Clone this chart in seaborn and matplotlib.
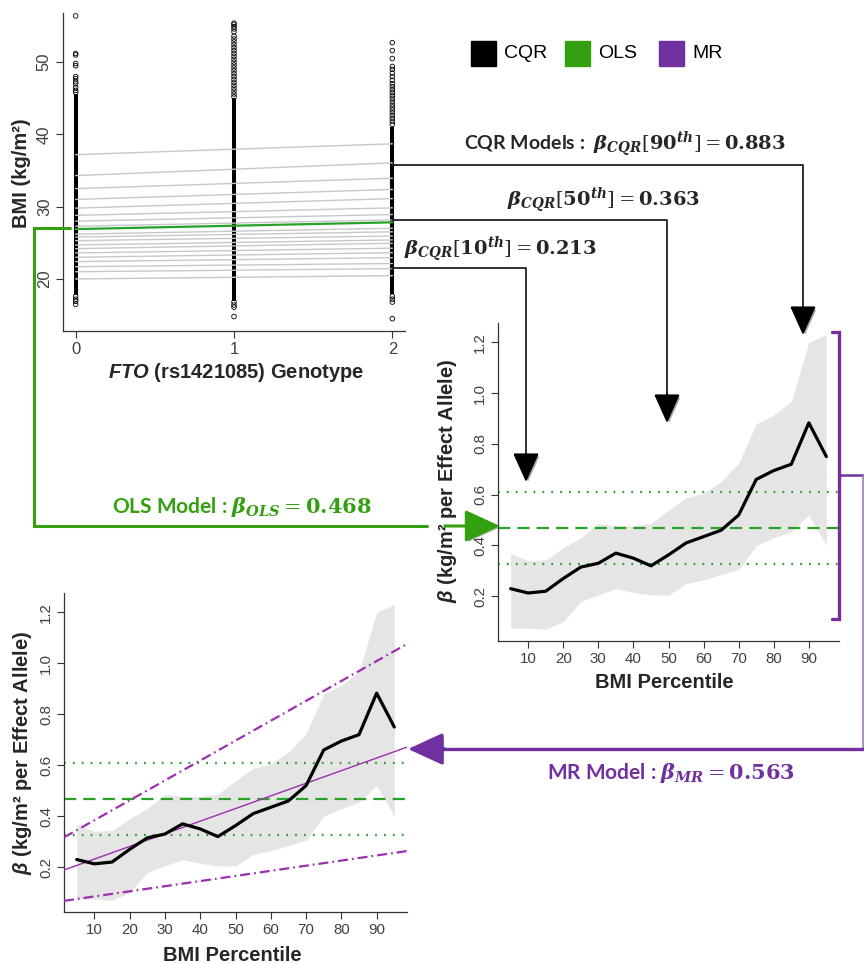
import matplotlib
matplotlib.use('Agg')
import matplotlib.pyplot as plt
import matplotlib.patheffects as pe
from matplotlib.patches import Rectangle
import seaborn as sns
import pandas as pd

#figure size in pixels
W, H = 864, 963

#---- data ----
genotype = [0, 1, 2]
#points that show as separate circles (BMI, kg/m2)
bmi_pts_g0 = [56.4, 51.2, 51.0, 49.8, 49.5, 48.0, 47.7, 47.3, 47.0, 46.5, 46.1, 45.8,
              17.6, 17.2, 16.9, 16.5]
bmi_pts_g1 = [55.4, 55.2, 54.9, 54.6, 54.2, 53.6, 53.2, 52.8, 52.4, 52.0, 51.6, 51.2,
              50.8, 50.4, 50.0, 49.6, 49.2, 48.8, 48.4, 48.0, 47.6, 47.2, 46.8, 46.4,
              46.0, 45.6, 45.2, 16.8, 16.4, 16.1, 14.8]
bmi_pts_g2 = [52.7, 51.6, 50.5, 49.4, 49.0, 48.5, 48.0, 47.5, 47.0, 46.6, 46.2, 45.8,
              45.4, 45.0, 44.6, 44.2, 43.8, 43.4, 43.0, 42.6, 42.2, 41.8, 41.4,
              17.6, 17.2, 16.8, 14.5]
#solid black part of each column
dense_lo = [17.8, 17.0, 17.9]
dense_hi = [45.6, 45.0, 41.0]

#quantile regression lines (5th..95th)
pct = [5, 10, 15, 20, 25, 30, 35, 40, 45, 50, 55, 60, 65, 70, 75, 80, 85, 90, 95]
q_intercept = [20.0, 21.0, 21.7, 22.4, 23.0, 23.6, 24.2, 24.7, 25.3, 25.8, 26.2, 27.3,
               28.0, 28.8, 29.8, 31.0, 32.5, 34.3, 37.2]
cqr_beta = [0.23, 0.213, 0.22, 0.27, 0.315, 0.33, 0.37, 0.35, 0.32, 0.363, 0.41, 0.435,
            0.46, 0.52, 0.66, 0.695, 0.72, 0.883, 0.75]
cqr_lo = [0.075, 0.075, 0.07, 0.10, 0.18, 0.205, 0.23, 0.215, 0.205, 0.205, 0.25, 0.265,
          0.285, 0.305, 0.40, 0.43, 0.455, 0.52, 0.40]
cqr_hi = [0.368, 0.34, 0.344, 0.39, 0.43, 0.486, 0.478, 0.478, 0.486, 0.54, 0.587, 0.606,
          0.652, 0.724, 0.879, 0.914, 0.967, 1.20, 1.23]

#OLS
ols_intercept = 26.9
ols_beta = 0.468
ols_lo, ols_hi = 0.327, 0.609

#MR: estimate, upper, lower lines (beta vs percentile)
mr_intercept = [0.182, 0.306, 0.065]
mr_slope = [0.00496, 0.00781, 0.00201]
mr_beta = 0.563

#colors
GREEN = '#27a127'
GREEN_ANN = '#33a00f'
PURPLE = '#7030a0'
MR_COL = '#9b2fae'
BAND = '#e5e5e5'
TICK_COL = '#404040'

sns.set_theme(style='ticks')
plt.rcParams['font.family'] = ['Liberation Sans', 'DejaVu Sans']
plt.rcParams['mathtext.fontset'] = 'custom'
plt.rcParams['mathtext.rm'] = 'Liberation Sans'
plt.rcParams['mathtext.it'] = 'Liberation Sans:italic'
plt.rcParams['mathtext.bf'] = 'Liberation Sans:bold'
plt.rcParams['mathtext.bfit'] = 'Liberation Sans:italic:bold'

fig = plt.figure(figsize=(W / 100, H / 100), dpi=100)
fig.patch.set_facecolor('white')


def px_axes(left, top, right, bottom):
    return fig.add_axes([left / W, 1 - bottom / H, (right - left) / W, (bottom - top) / H])


def r_style(ax, tick_size):
    sns.despine(ax=ax)
    for s in ['left', 'bottom']:
        ax.spines[s].set_color('#333333')
        ax.spines[s].set_linewidth(0.9)
    ax.set_facecolor('white')
    ax.tick_params(direction='out', length=5, width=0.8, color='#333333',
                   labelsize=tick_size, labelcolor=TICK_COL, pad=3)
    for lab in ax.get_yticklabels():
        lab.set_rotation(90)
        lab.set_va('center')


#---- top-left: scatter with quantile lines ----
ax1 = px_axes(63, 13, 405, 331)
ax1.vlines(genotype, dense_lo, dense_hi, color='black', lw=2.9, zorder=2)
pts = pd.DataFrame({
    'genotype': [0] * len(bmi_pts_g0) + [1] * len(bmi_pts_g1) + [2] * len(bmi_pts_g2),
    'bmi': bmi_pts_g0 + bmi_pts_g1 + bmi_pts_g2})
sns.scatterplot(data=pts, x='genotype', y='bmi', ax=ax1, marker='o', s=11,
                facecolor='none', edgecolor='black', linewidth=0.6, zorder=2)
for a, b in zip(q_intercept, cqr_beta):
    ax1.plot([0, 2], [a, a + 2 * b], color='#c8c8c8', lw=1.0, zorder=3)
ax1.plot([0, 2], [ols_intercept, ols_intercept + 2 * ols_beta], color=GREEN, lw=1.6, zorder=4)
ax1.set_xlim(-0.08, 2.08)
ax1.set_ylim(12.8, 56.8)
ax1.set_xticks(genotype)
ax1.set_yticks([20, 30, 40, 50])
r_style(ax1, 12)
ax1.set_xlabel(r'$\mathbfit{FTO}$ (rs1421085) Genotype', fontsize=14.5, fontweight='bold', va='center')
ax1.xaxis.set_label_coords(0.506, -0.132)
ax1.set_ylabel('BMI (kg/m²)', fontsize=14.5, fontweight='bold', va='center')
ax1.yaxis.set_label_coords(-0.12, 0.497)

cqr = pd.DataFrame({'pct': pct, 'beta': cqr_beta, 'lo': cqr_lo, 'hi': cqr_hi})


def beta_panel(ax):
    ax.fill_between(cqr['pct'], cqr['lo'], cqr['hi'], color=BAND, lw=0, zorder=1)
    ax.axhline(ols_hi, color=GREEN, lw=1.6, ls=(0, (0.8, 3.2)), zorder=2)
    ax.axhline(ols_beta, color=GREEN, lw=1.6, ls=(0, (5.5, 3.2)), zorder=2)
    ax.axhline(ols_lo, color=GREEN, lw=1.6, ls=(0, (0.8, 3.2)), zorder=2)
    sns.lineplot(data=cqr, x='pct', y='beta', ax=ax, color='black', lw=2.3, zorder=4)
    ax.set_xlim(1.4, 98.6)
    ax.set_ylim(0.024, 1.276)
    ax.set_xticks([10, 20, 30, 40, 50, 60, 70, 80, 90])
    ax.set_yticks([0.2, 0.4, 0.6, 0.8, 1.0, 1.2])
    ax.set_yticklabels(['0.2', '0.4', '0.6', '0.8', '1.0', '1.2'])
    r_style(ax, 10.8)
    ax.set_xlabel('BMI Percentile', fontsize=14.5, fontweight='bold', va='center')
    ax.set_ylabel(r'$\mathbfit{\beta}$ (kg/m² per Effect Allele)', fontsize=14.5,
                  fontweight='bold', va='center')


#---- right: CQR betas ----
ax2 = px_axes(498, 323, 839, 641)
beta_panel(ax2)
ax2.xaxis.set_label_coords(0.487, -0.132)
ax2.yaxis.set_label_coords(-0.147, 0.503)

#---- bottom-left: CQR betas with MR lines ----
ax3 = px_axes(64, 593, 407, 912)
beta_panel(ax3)
mr_styles = [dict(lw=1.0, ls='-'), dict(lw=1.6, ls=(0, (4.5, 1.8, 0.8, 1.8))),
             dict(lw=1.6, ls=(0, (4.5, 1.8, 0.8, 1.8)))]
for a, b, st in zip(mr_intercept, mr_slope, mr_styles):
    ax3.axline((0, a), slope=b, color=MR_COL, zorder=3, **st)
ax3.xaxis.set_label_coords(0.49, -0.135)
ax3.yaxis.set_label_coords(-0.12, 0.498)

#---- annotation layer in pixel coordinates ----
ann = fig.add_axes([0, 0, 1, 1], zorder=10)
ann.set_xlim(0, W)
ann.set_ylim(H, 0)
ann.axis('off')
ann.patch.set_alpha(0)

shadow = [pe.withSimplePatchShadow(offset=(1.5, -1.5), alpha=0.35)]


def arrow(x0, y0, x1, y1, color, hl=1.0, hw=0.45, lw=1.5):
    ann.annotate('', xy=(x1, y1), xytext=(x0, y0),
                 arrowprops=dict(arrowstyle=f'-|>,head_length={hl},head_width={hw}',
                                 color=color, lw=lw, shrinkA=0, shrinkB=0,
                                 mutation_scale=18, path_effects=shadow))


#legend
for x, c, t in [(471, 'black', 'CQR'), (565, GREEN_ANN, 'OLS'), (659, PURPLE, 'MR')]:
    ann.add_patch(Rectangle((x, 41), 25, 25, color=c))
    ann.text(x + 33, 54, t, fontsize=14, va='center', ha='left', color='black')

#CQR connectors
ann.plot([392, 803, 803], [165, 165, 314], color='#222222', lw=1.3)
arrow(803, 310, 803, 335, 'black')
ann.plot([392, 667, 667], [220, 220, 398], color='#222222', lw=1.3)
arrow(667, 394, 667, 423, 'black')
ann.plot([392, 526, 526], [268, 268, 458], color='#222222', lw=1.3)
arrow(526, 454, 526, 482, 'black')

txt = dict(ha='center', va='center', fontweight='bold', family='Lato', math_fontfamily='dejavuserif')
ann.text(625, 144, r'CQR Models :  $\mathbfit{\beta}_{\mathbfit{CQR}}[\mathbf{90}^{\mathbfit{th}}] = \mathbf{0.883}$',
         fontsize=14, **txt)
ann.text(604, 200, r'$\mathbfit{\beta}_{\mathbfit{CQR}}[\mathbf{50}^{\mathbfit{th}}] = \mathbf{0.363}$',
         fontsize=14, **txt)
ann.text(500, 249, r'$\mathbfit{\beta}_{\mathbfit{CQR}}[\mathbf{10}^{\mathbfit{th}}] = \mathbf{0.213}$',
         fontsize=14, **txt)

#OLS connector
ann.plot([70, 34, 34, 427], [228, 228, 526, 526], color=GREEN_ANN, lw=2.2, solid_joinstyle='miter')
arrow(445, 526, 500, 526, GREEN_ANN, hl=1.2, hw=0.55, lw=2.2)
ann.text(242, 507, r'OLS Model : $\mathbfit{\beta}_{\mathbfit{OLS}} = \mathbf{0.468}$',
         fontsize=15, color=GREEN_ANN, **txt)

#MR bracket and connector
ann.plot([832, 839, 839, 832], [332, 332, 619, 619], color=PURPLE, lw=2.4, solid_joinstyle='miter')
ann.plot([839, 863], [475, 475], color=PURPLE, lw=1.8)
ann.plot([863, 863], [475, 749], color='#9a7cc0', lw=1.2)
ann.plot([863, 440], [749, 749], color=PURPLE, lw=2.4)
arrow(445, 749, 408, 749, PURPLE, hl=1.2, hw=0.55, lw=2.4)
ann.text(671, 773, r'MR Model : $\mathbfit{\beta}_{\mathbfit{MR}} = \mathbf{0.563}$',
         fontsize=15, color=PURPLE, **txt)

fig.savefig('out.png', dpi=100)
